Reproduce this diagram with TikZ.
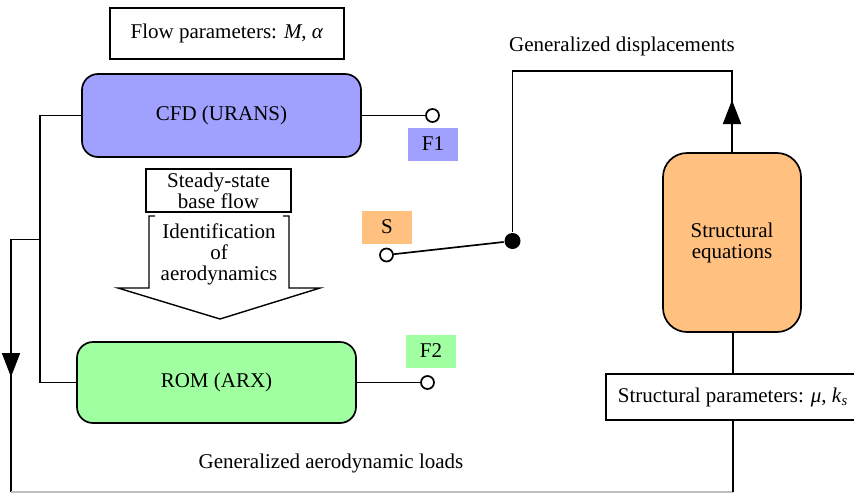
\documentclass[tikz,border=0pt]{standalone}
\usepackage{fontspec}
\setmainfont{Liberation Serif}
\usetikzlibrary{arrows.meta}
\definecolor{cfdblue}{HTML}{A0A0FF}
\definecolor{romgreen}{HTML}{A0FFA0}
\definecolor{strorange}{HTML}{FFC080}
\begin{document}
\begin{tikzpicture}[x=1pt,y=-1pt, line width=1.7pt,
  font=\fontsize{21}{21}\selectfont,
  box/.style={draw, fill=white, inner sep=0pt, align=center},
  rbox/.style={draw, rounded corners=16pt, inner sep=0pt, align=center},
  lab/.style={inner sep=0pt, minimum width=50pt, minimum height=33pt},
  term/.style={circle, draw, fill=white, minimum size=13pt, inner sep=0pt},
  junc/.style={circle, fill=black, minimum size=16pt, inner sep=0pt},
  tip/.style={-{Triangle[width=18pt,length=24pt]}}]
\useasboundingbox (0,0) rectangle (854,493);
\clip (0,0) rectangle (854,493);
% boxes
\node[box, minimum width=234pt, minimum height=51pt] (flow) at (227,33.5) {Flow parameters: \textit{M}, \textit{α}};
\node[rbox, fill=cfdblue, minimum width=279pt, minimum height=83pt] (cfd) at (221.5,115.5) {CFD (URANS)};
\node[term] (f1t) at (432.5,115.5) {};
\node[lab, fill=cfdblue] (f1) at (433,144) {F1};
\node[box, minimum width=145pt, minimum height=43pt] (ss) at (218.5,190.5) {Steady-state\\base flow};
% big arrow
\draw[line width=1.4pt] (155,216) -- (149,216) -- (149,288) -- (118,288) -- (220,319) -- (320,288) -- (289,288) -- (289,216) -- (283,216);
\node[align=center] (ident) at (219,254) {Identification\\of\\aerodynamics};
\node[rbox, fill=romgreen, minimum width=279pt, minimum height=81pt] (rom) at (216.5,382.5) {ROM (ARX)};
\node[term] (f2t) at (427.5,382.5) {};
\node[lab, fill=romgreen] (f2) at (431,351) {F2};
\node[lab, fill=strorange] (s) at (387,227) {S};
\node[term] (st) at (386.5,255) {};
\node[junc] (dot) at (512.5,241) {};
\node[rbox, fill=strorange, rounded corners=24pt, minimum width=138pt, minimum height=179pt] (str) at (732,242.5) {Structural\\equations};
\node[box, anchor=west, minimum height=46pt, inner xsep=12pt] (par) at (605,397) {Structural parameters: \textit{μ}, \textit{k}\textsubscript{\textit{s}}};
\node (disp) at (622,46) {Generalized displacements};
\node (loads) at (331,463) {Generalized aerodynamic loads};
% coordinates
\coordinate (lj) at (40,239.5);
\coordinate (fb) at (11,239.5);
\coordinate (bl) at (11,492);
\coordinate (br) at (733,492);
\coordinate (tr) at (732,71);
\coordinate (tl) at (512.5,71);
% connectors
\draw (cfd.east) -- (f1t.west);
\draw (rom.east) -- (f2t.west);
\draw (st) -- (dot);
\draw (dot) -- (tl) -- (tr) -- (str.north);
\draw[tip] (str.north) -- (732,100);
\draw (cfd.west) -| (lj) |- (rom.west);
\draw (lj) -- (fb) -- (bl);
\draw[black!25] (bl) -- (br);
\draw (br) -- (par.south -| br);
\draw[tip] (fb) -- (11,377);
\draw (str.south -| br) -- (par.north -| br);
\end{tikzpicture}
\end{document}
